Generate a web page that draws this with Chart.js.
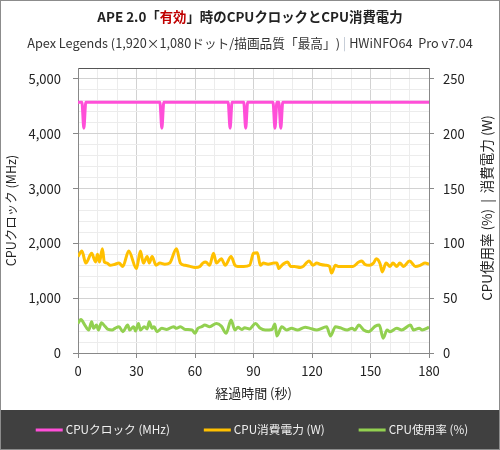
<!DOCTYPE html>
<html>
<head>
<meta charset="utf-8">
<script src="https://cdn.jsdelivr.net/npm/chart.js@4.4.1/dist/chart.umd.min.js"></script>
<style>
  html, body { margin: 0; padding: 0; background: #fff; }
  canvas { display: block; }
</style>
</head>
<body>
<canvas id="cpuChart" width="500" height="450"></canvas>
<script>
// CPU clock (MHz) - flat with short dips
const clockTime = [0, 2, 3, 4, 42, 43, 44, 77, 78, 79, 85, 86, 87, 100, 101, 102, 103, 104, 105, 180];
const clockMHz = [4575, 4575, 4100, 4575, 4575, 4100, 4575, 4575, 4100, 4575, 4575, 4100, 4575, 4575, 4100, 4575, 4575, 4100, 4575, 4575];

// CPU power (W)
const powerTime = [0, 2, 4, 7, 9, 10, 11, 12.5, 13.5, 15, 16.5, 19, 21, 23, 26, 30, 32, 33.5, 35.5, 36.5,
  38, 40, 42, 44.5, 47, 50.5, 52.5, 55, 57.5, 60, 62.5, 64, 65.5, 67.5, 69.5, 71, 73.5, 75.5, 78.5, 80.5,
  82, 85, 88, 90, 92, 93.5, 95, 97.5, 100.5, 102, 103, 104.5, 106, 107.5, 109, 111, 114, 115.5, 117, 118.5,
  120.5, 122.5, 124, 127, 129, 130, 132, 133.5, 136, 138.5, 141, 144, 145.5, 147, 149.5, 151.5, 153, 155, 156, 158,
  160, 161.5, 163.5, 165, 167, 170, 173, 175.5, 178, 180];
const powerW = [88, 93, 82, 91, 83, 90, 83, 95, 83, 82, 80, 81, 82, 79, 93, 77, 93, 82, 88, 82,
  88, 80, 82, 81, 82, 95, 82, 80, 79, 78, 79, 82, 83, 80, 91, 82, 86, 80, 88, 80,
  79, 79, 80, 91, 91.5, 80, 82, 81, 82, 82, 77, 80, 82, 83, 79, 79, 78, 79, 82, 84,
  80, 82, 81, 80, 79, 73, 80, 79, 79, 79, 79, 83, 84, 81, 80, 82, 86, 81, 74, 82,
  79, 82, 79, 82, 79, 84, 79, 80, 82, 81];

// CPU usage (%)
const usageTime = [0, 1.5, 3.5, 5.5, 7, 8, 9.5, 10.5, 12, 14, 15.5, 17.5, 19, 21, 23, 25.5, 26.5, 28.5, 29.5, 31,
  32, 34, 35.5, 36.5, 38, 39, 40.5, 43, 45.5, 49, 50.5, 52.5, 55, 58.5, 60, 61.5, 63.5, 65, 67.5, 71,
  73.5, 76, 78.5, 80.5, 82, 84, 85.5, 88, 91, 93.5, 96, 99.5, 101, 102, 104.5, 107, 109.5, 112.5, 116.5, 119,
  122.5, 127.5, 129.5, 132, 134.5, 138, 140.5, 142, 144, 146.5, 149, 152.5, 154.5, 156.5, 158.5, 160, 163.5, 166, 170.5, 172,
  175, 176.5, 180];
const usagePct = [27, 30.5, 25.5, 21, 28.5, 22.5, 25.5, 21, 27.5, 24, 21.5, 21, 22.5, 24, 19.5, 25.5, 21, 24, 20, 27,
  21, 24, 22, 28.5, 22.5, 24, 19.5, 22.5, 21.5, 24, 22.5, 24, 21.5, 21, 18, 22.5, 24, 25.5, 24, 27,
  24.5, 18, 30, 21, 23.5, 21.5, 23, 22, 27, 22.5, 21, 21.5, 26.5, 15.5, 24, 21, 22.5, 21, 23.5, 22.5,
  21, 24, 15.5, 24, 23, 21, 22.5, 21, 25.5, 21, 19.5, 24.5, 25.5, 13.5, 21, 19.5, 22.5, 21, 25.5, 21,
  22.5, 21, 23.5];

const seriesLabels = ['CPUクロック (MHz)', 'CPU消費電力 (W)', 'CPU使用率 (%)'];
const seriesColors = ['#ff4fd8', '#ffc000', '#92d050'];

const FONT = "'Noto Sans CJK JP', 'Noto Sans', sans-serif";
Chart.defaults.font.family = FONT;
Chart.defaults.color = '#222';

const toPoints = (xs, ys) => xs.map((x, i) => ({ x: x, y: ys[i] }));

// draw a line of text made of coloured pieces, centred on cx
function drawPieces(ctx, pieces, cx, cy, font) {
  ctx.font = font;
  ctx.textBaseline = 'middle';
  ctx.textAlign = 'left';
  const total = pieces.reduce((s, p) => s + ctx.measureText(p[0]).width, 0);
  let x = cx - total / 2;
  pieces.forEach(p => {
    ctx.fillStyle = p[1];
    ctx.fillText(p[0], x, cy);
    x += ctx.measureText(p[0]).width;
  });
}

const decorPlugin = {
  id: 'decor',
  afterDraw(chart) {
    const ctx = chart.ctx;
    ctx.save();

    // titles
    drawPieces(ctx, [['APE 2.0「', '#222'], ['有効', '#c00000'], ['」時のCPUクロックとCPU消費電力', '#222']],
      250, 17, 'bold 13.4px ' + FONT);
    drawPieces(ctx, [['Apex Legends (1,920×1,080ドット/描画品質「最高」) ', '#333'], ['|', '#bcc4d0'], [' HWiNFO64  Pro v7.04', '#333']],
      250, 43, '12.7px ' + FONT);

    // right axis title, reading bottom to top
    ctx.save();
    ctx.translate(487, 208);
    ctx.rotate(-Math.PI / 2);
    ctx.font = '13.5px ' + FONT;
    ctx.fillStyle = '#222';
    ctx.textAlign = 'center';
    ctx.textBaseline = 'middle';
    ctx.fillText('CPU使用率 (%)  |  消費電力 (W)', 0, 0);
    ctx.restore();

    // legend band
    ctx.fillStyle = '#404040';
    ctx.fillRect(0, 410, 500, 40);
    ctx.font = '11.7px ' + FONT;
    ctx.textBaseline = 'middle';
    ctx.textAlign = 'left';
    const lineW = 27, gapText = 3, gapItem = 34;
    const widths = chart.data.datasets.map(d => lineW + gapText + ctx.measureText(d.label).width);
    const total = widths.reduce((a, b) => a + b, 0) + gapItem * (widths.length - 1);
    let x = 252 - total / 2;
    chart.data.datasets.forEach((d, i) => {
      ctx.strokeStyle = d.borderColor;
      ctx.lineWidth = 3;
      ctx.beginPath();
      ctx.moveTo(x, 430);
      ctx.lineTo(x + lineW, 430);
      ctx.stroke();
      ctx.fillStyle = '#f0f0f0';
      ctx.fillText(d.label, x + lineW + gapText, 430);
      x += widths[i] + gapItem;
    });

    // outer frame
    ctx.strokeStyle = '#8c8c8c';
    ctx.lineWidth = 1;
    ctx.strokeRect(0.5, 0.5, 499, 449);
    ctx.restore();
  }
};

const tickFont = { size: 13 };

new Chart(document.getElementById('cpuChart'), {
  type: 'line',
  data: {
    datasets: [
      { label: seriesLabels[0], data: toPoints(clockTime, clockMHz), borderColor: seriesColors[0], yAxisID: 'y' },
      { label: seriesLabels[1], data: toPoints(powerTime, powerW), borderColor: seriesColors[1], yAxisID: 'y2' },
      { label: seriesLabels[2], data: toPoints(usageTime, usagePct), borderColor: seriesColors[2], yAxisID: 'y2' }
    ]
  },
  options: {
    responsive: false,
    animation: false,
    layout: { padding: { top: 68, bottom: 40, left: 0, right: 0 } },
    elements: {
      line: { borderWidth: 3, cubicInterpolationMode: 'monotone', fill: false },
      point: { radius: 0 }
    },
    plugins: {
      legend: { display: false },
      title: { display: false },
      tooltip: { enabled: false }
    },
    scales: {
      x: {
        type: 'linear',
        min: 0,
        max: 180,
        afterFit: s => { s.height = 57; },
        ticks: {
          stepSize: 10,
          autoSkip: false,
          maxRotation: 0,
          padding: 5,
          font: tickFont,
          color: '#222',
          callback: v => (v % 30 === 0 ? v : '')
        },
        grid: {
          color: c => (c.tick && c.tick.value % 30 === 0 ? '#d2d2d2' : '#ececec'),
          tickColor: c => (c.tick && c.tick.value % 30 === 0 ? '#888' : 'rgba(0,0,0,0)'),
          tickLength: 5
        },
        border: { color: '#888' },
        title: { display: true, text: '経過時間 (秒)', font: { size: 13 }, color: '#222', padding: { top: 0, bottom: 9 } }
      },
      y: {
        position: 'left',
        min: 0,
        max: 5200,
        afterFit: s => { s.width = 78; },
        ticks: {
          stepSize: 200,
          autoSkip: false,
          padding: 12,
          font: tickFont,
          color: '#222',
          callback: v => (v % 1000 === 0 ? v.toLocaleString('en-US') : '')
        },
        grid: {
          color: c => (c.tick.value === 5200 ? '#555' : c.tick.value % 1000 === 0 ? '#d2d2d2' : '#ececec'),
          tickColor: c => (c.tick.value % 1000 === 0 && c.tick.value !== 5200 ? '#888' : 'rgba(0,0,0,0)'),
          tickLength: 5
        },
        border: { color: '#888' },
        title: { display: true, text: 'CPUクロック (MHz)', font: { size: 12.5 }, color: '#222', padding: { top: 4, bottom: 0 } }
      },
      y2: {
        position: 'right',
        min: 0,
        max: 260,
        afterFit: s => { s.width = 71; },
        ticks: {
          stepSize: 10,
          autoSkip: false,
          padding: 9,
          font: tickFont,
          color: '#222',
          callback: v => (v % 50 === 0 ? v : '')
        },
        grid: {
          drawOnChartArea: false,
          tickColor: c => (c.tick.value % 50 === 0 && c.tick.value !== 260 ? '#888' : 'rgba(0,0,0,0)'),
          tickLength: 5
        },
        border: { color: '#888' }
      }
    }
  },
  plugins: [decorPlugin]
});
</script>
</body>
</html>
